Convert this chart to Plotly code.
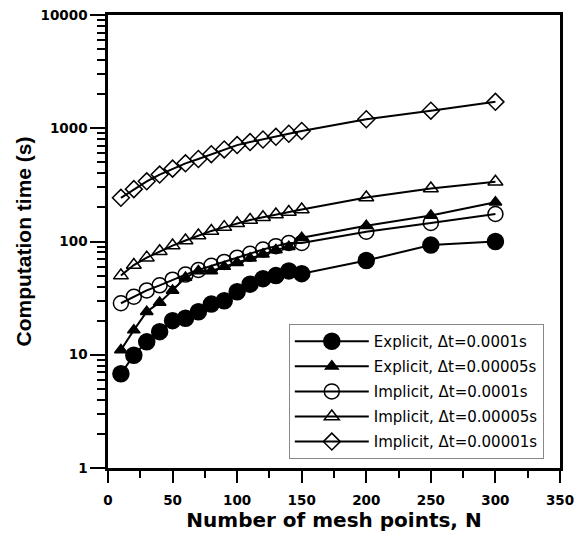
import plotly.graph_objects as go

N = [10, 20, 30, 40, 50, 60, 70, 80, 90, 100, 110, 120, 130, 140, 150, 200, 250, 300]

explicit_1e4 = [6.8, 9.9, 13, 16, 20, 21, 24, 28, 30, 36, 42, 47, 50, 55, 52, 68, 93, 100]
explicit_5e5 = [11, 16.5, 24, 29, 37, 48, 55, 55, 60, 65, 71, 77, 84, 90, 108, 138, 170, 222]
implicit_1e4 = [28.5, 32.5, 37, 41, 46, 51, 56, 61, 66, 72, 78, 85, 91, 97, 97, 122, 146, 175]
implicit_5e5 = [50, 62, 72, 82, 92, 102, 113, 124, 134, 145, 155, 164, 173, 182, 192, 245, 294, 337]
implicit_1e5 = [243, 290, 340, 390, 440, 490, 535, 590, 650, 710, 755, 795, 840, 895, 945, 1200, 1430, 1710]

names = ["Explicit, \u0394t=0.0001s", "Explicit, \u0394t=0.00005s", "Implicit, \u0394t=0.0001s",
         "Implicit, \u0394t=0.00005s", "Implicit, \u0394t=0.00001s"]
series = [explicit_1e4, explicit_5e5, implicit_1e4, implicit_5e5, implicit_1e5]
symbols = ["circle", "triangle-up", "circle-open", "triangle-up-open", "diamond-open"]
sizes = [16, 11, 15, 13, 13]

x_ticks = [0, 50, 100, 150, 200, 250, 300, 350]
y_ticks = [1, 10, 100, 1000, 10000]
y_minor = [m * d for d in [1, 10, 100, 1000] for m in range(2, 10)]

fig = go.Figure()
for i, (nm, ys, sym, sz) in enumerate(zip(names, series, symbols, sizes)):
    fig.add_trace(go.Scatter(
        x=N, y=ys, name=nm, mode="lines+markers", legendgroup=f"g{i}",
        line=dict(color="black", width=2),
        marker=dict(symbol=sym, size=sz, color="black",
                    line=dict(color="black", width=1.5)),
    ))

wide = "DejaVu Sans, sans-serif"
narrow = "Liberation Sans, Arial, sans-serif"
fig.update_layout(
    width=574, height=536,
    margin=dict(l=108, r=14, t=15, b=68),
    paper_bgcolor="white", plot_bgcolor="white",
    font=dict(family=wide, color="black"),
    showlegend=True,
    legend=dict(
        x=0.40, y=0.318, xanchor="left", yanchor="top",
        bgcolor="white", bordercolor="#888888", borderwidth=1,
        font=dict(size=15, family=wide, color="black"),
        itemwidth=74, traceorder="grouped", tracegroupgap=2.6,
    ),
)
fig.update_xaxes(
    range=[0, 350], tickvals=x_ticks, ticktext=[str(v) for v in x_ticks],
    showline=True, linecolor="black", linewidth=2.5, mirror=True,
    ticks="outside", ticklen=12, tickwidth=1.5, tickcolor="black",
    minor=dict(tickvals=[25, 75, 125, 175, 225, 275, 325], ticks="outside",
               ticklen=7, tickwidth=1.5, tickcolor="black", showgrid=False),
    showgrid=False, zeroline=False, automargin=False,
    ticklabeloverflow="allow", ticklabelstandoff=6,
    tickfont=dict(size=13.5, family=wide, weight="bold"),
    title=dict(text="Number of mesh points, N", standoff=6,
               font=dict(size=20, family=wide, weight="bold")),
)
fig.update_yaxes(
    type="log", range=[0, 4], tickvals=y_ticks, ticktext=[str(v) for v in y_ticks],
    showline=True, linecolor="black", linewidth=2.5, mirror=True,
    ticks="outside", ticklen=15, tickwidth=1.5, tickcolor="black",
    minor=dict(tickvals=y_minor, ticks="outside", ticklen=8, tickwidth=1.5,
               tickcolor="black", showgrid=False),
    showgrid=False, zeroline=False, automargin=False,
    tickfont=dict(size=13.5, family=wide, weight="bold"),
    title=dict(text="Computation time (s)", standoff=4,
               font=dict(size=21, family=narrow, weight="bold")),
)

fig.write_html("out.html")
